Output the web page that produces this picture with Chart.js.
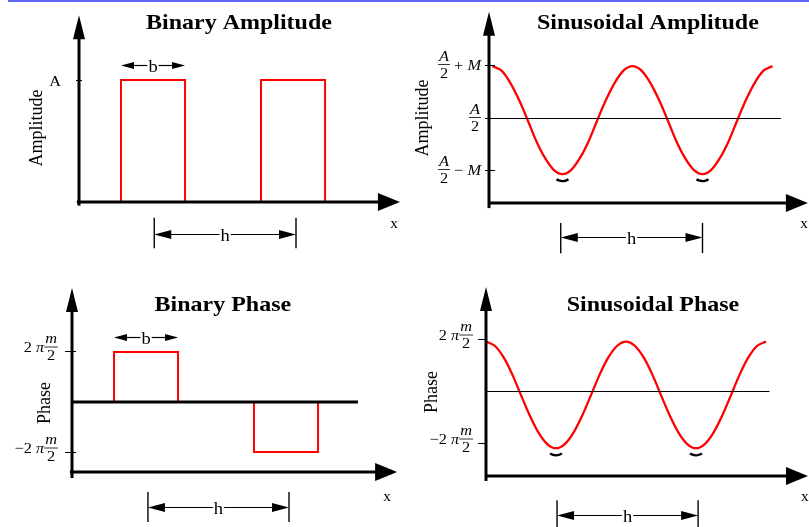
<!DOCTYPE html>
<html>
<head>
<meta charset="utf-8">
<script src="https://cdn.jsdelivr.net/npm/chart.js@4.4.0/dist/chart.umd.min.js"></script>
<style>
  html, body { margin: 0; padding: 0; background: #fff; }
  #wrap { position: relative; width: 809px; height: 527px; overflow: hidden; }
  #wrap canvas { position: absolute; }
  #topline { position: absolute; left: 8px; top: 0; width: 801px; height: 2px; background: #6464f4; }
</style>
</head>
<body>
<div id="wrap">
  <div id="topline"></div>
  <canvas id="binAmp" width="404" height="260" style="left:0;top:0"></canvas>
  <canvas id="sinAmp" width="405" height="260" style="left:404px;top:0"></canvas>
  <canvas id="binPhase" width="404" height="267" style="left:0;top:260px"></canvas>
  <canvas id="sinPhase" width="405" height="267" style="left:404px;top:260px"></canvas>
</div>
<script>
// ---- data (x in the same units for every panel, one period h = 4) ----
const pulseStarts = [1.2, 5.2];
const pulseEnds = [3.03, 7.03];
const binAmpLevels = [1, 1];
const binPhaseLevels = [1, -1];

// red curve of the sinusoidal amplitude panel, read every 1/16 period
const sinAmpX = [0.1, 0.35, 0.6, 0.85, 1.1, 1.35, 1.6, 1.85, 2.1, 2.35, 2.6, 2.85, 3.1, 3.35, 3.6, 3.85,
  4.1, 4.35, 4.6, 4.85, 5.1, 5.35, 5.6, 5.85, 6.1, 6.35, 6.6, 6.85, 7.1, 7.35, 7.6, 7.85, 8.1];
const sinAmpY = [1.61, 1.56, 1.42, 1.22, 0.98, 0.73, 0.53, 0.39, 0.34, 0.39, 0.53, 0.73, 0.98, 1.22, 1.42, 1.56,
  1.61, 1.56, 1.42, 1.22, 0.98, 0.73, 0.53, 0.39, 0.34, 0.39, 0.53, 0.73, 0.98, 1.22, 1.42, 1.56, 1.61];
const sinAmpMinX = [2.1, 6.1];

// red curve of the sinusoidal phase panel
const sinPhaseX = [0, 0.25, 0.5, 0.75, 1, 1.25, 1.5, 1.75, 2, 2.25, 2.5, 2.75, 3, 3.25, 3.5, 3.75,
  4, 4.25, 4.5, 4.75, 5, 5.25, 5.5, 5.75, 6, 6.25, 6.5, 6.75, 7, 7.25, 7.5, 7.75, 8];
const sinPhaseY = [0.95, 0.87, 0.65, 0.32, -0.08, -0.47, -0.8, -1.02, -1.1, -1.02, -0.8, -0.47, -0.08, 0.32, 0.65, 0.87,
  0.95, 0.87, 0.65, 0.32, -0.08, -0.47, -0.8, -1.02, -1.1, -1.02, -0.8, -0.47, -0.08, 0.32, 0.65, 0.87, 0.95];
const sinPhaseMinX = [2, 6];

const binAmpTicks = [1];
const binAmpTickLabels = [[{ s: 'A' }]];
const sinAmpTicks = [1.62, 1.0, 0.38];
const sinAmpTickLabels = [
  [{ num: 'A', den: '2' }, { s: ' + ' }, { s: 'M', it: true }],
  [{ num: 'A', den: '2' }],
  [{ num: 'A', den: '2' }, { s: ' \u2212 ' }, { s: 'M', it: true }]
];
const phaseTicks = [1, -1];
const phaseTickLabels = [
  [{ s: '2 ' }, { s: '\u03c0', it: true }, { num: 'm', den: '2' }],
  [{ s: '\u22122 ' }, { s: '\u03c0', it: true }, { num: 'm', den: '2' }]
];

// ---- drawing helpers ----
const SERIF = '"Liberation Serif", "Times New Roman", serif';
const SX = 1.09;
const TS = 15;
const fnt = (size, it, bold) => (it ? 'italic ' : '') + (bold ? 'bold ' : '') + size + 'px ' + SERIF;
const crisp = v => Math.round(v - 0.5) + 0.5;

function text(ctx, s, x, y, font, align, base, rot) {
  ctx.save();
  ctx.font = font;
  ctx.textAlign = align || 'center';
  ctx.textBaseline = base || 'alphabetic';
  ctx.translate(x, y);
  ctx.scale(SX, 1);
  if (rot) ctx.rotate(rot);
  ctx.fillText(s, 0, 0);
  ctx.restore();
}

function line(ctx, x1, y1, x2, y2) {
  ctx.beginPath();
  ctx.moveTo(x1, y1);
  ctx.lineTo(x2, y2);
  ctx.stroke();
}

function head(ctx, tx, ty, dx, dy, len, base) {
  const bx = tx - dx * len, by = ty - dy * len;
  ctx.beginPath();
  ctx.moveTo(tx, ty);
  ctx.lineTo(bx - dy * base / 2, by + dx * base / 2);
  ctx.lineTo(bx + dy * base / 2, by - dx * base / 2);
  ctx.closePath();
  ctx.fill();
}

function tokWidth(ctx, t) {
  if (t.num) {
    ctx.font = fnt(TS, true);
    const wn = ctx.measureText(t.num).width;
    ctx.font = fnt(TS, false);
    const wd = ctx.measureText(t.den).width;
    return Math.max(wn, wd) * SX + 2;
  }
  ctx.font = fnt(TS, t.it);
  return ctx.measureText(t.s).width * SX;
}

function drawTokens(ctx, toks, xr, cy) {
  const ws = toks.map(t => tokWidth(ctx, t));
  let x = xr - ws.reduce((a, b) => a + b, 0);
  toks.forEach((t, i) => {
    const w = ws[i];
    if (t.num) {
      text(ctx, t.num, x + w / 2, cy - 4, fnt(TS, true), 'center');
      text(ctx, t.den, x + w / 2, cy + 13, fnt(TS, false), 'center');
      ctx.lineWidth = 0.8;
      line(ctx, x, cy, x + w, cy);
    } else {
      text(ctx, t.s, x, cy + 5, fnt(TS, t.it), 'left');
    }
    x += w;
  });
}

function dimension(ctx, x1, x2, y, label, size, len, base) {
  ctx.lineWidth = 1.2;
  y = crisp(y);
  head(ctx, x1, y, -1, 0, len, base);
  head(ctx, x2, y, 1, 0, len, base);
  ctx.font = fnt(size);
  const half = ctx.measureText(label).width * SX / 2 + 1;
  const cx = (x1 + x2) / 2;
  line(ctx, x1 + len - 1, y, cx - half, y);
  line(ctx, cx + half, y, x2 - len + 1, y);
  text(ctx, label, cx, y + size * 0.36, fnt(size), 'center');
}

const diagram = {
  id: 'diagram',
  afterDatasetsDraw(chart, args, o) {
    const ctx = chart.ctx;
    const X = v => chart.scales.x.getPixelForValue(v);
    const Y = v => chart.scales.y.getPixelForValue(v);
    ctx.save();
    ctx.fillStyle = '#000';
    ctx.strokeStyle = '#000';
    ctx.lineCap = 'butt';

    if (o.mid) {
      ctx.lineWidth = o.mid.w;
      const my = o.mid.w === 1 ? crisp(Y(o.mid.y)) : Y(o.mid.y);
      line(ctx, X(0), my, X(o.mid.x1), my);
    }

    // axes with arrowheads
    ctx.lineWidth = 3;
    const ax = X(0), by = Y(o.base);
    line(ctx, ax, Y(o.yAxis[0]), ax, Y(o.yAxis[1]) + 20);
    head(ctx, ax, Y(o.yAxis[1]), 0, -1, 24, 12);
    line(ctx, X(o.xAxis[0]), by, X(o.xAxis[1]) - 18, by);
    head(ctx, X(o.xAxis[1]), by, 1, 0, 22, 18);

    // ticks and their labels
    o.ticks.forEach((v, i) => {
      const ty = crisp(Y(v));
      ctx.lineWidth = 1;
      line(ctx, ax - o.tickL, ty, ax + o.tickR, ty);
      drawTokens(ctx, o.tickLabels[i], ax - o.tickL - o.gap, ty + o.labelDy);
    });

    // minima marks
    (o.minX || []).forEach(mx => {
      ctx.lineWidth = 2.4;
      ctx.beginPath();
      ctx.ellipse(X(mx), Y(o.minY) + 3, 7, 4, 0, 0.18 * Math.PI, 0.82 * Math.PI);
      ctx.stroke();
    });

    // b and h dimensions
    if (o.b) dimension(ctx, X(o.b.x1), X(o.b.x2), Y(o.b.y), 'b', 17, 13, 7);
    const h = o.h;
    ctx.lineWidth = 1.4;
    line(ctx, X(h.x1), Y(h.top), X(h.x1), Y(h.bot));
    line(ctx, X(h.x2), Y(h.top), X(h.x2), Y(h.bot));
    dimension(ctx, X(h.x1), X(h.x2), Y(h.y), 'h', 17, 17, 9);

    // texts
    text(ctx, 'x', X(o.xLabel[0]), Y(o.xLabel[1]), fnt(14), 'center', 'middle');
    text(ctx, o.title, X(o.titleAt[0]), Y(o.titleAt[1]), fnt(22, false, true), 'center');
    text(ctx, o.yTitle, X(o.yTitleAt[0]), Y(o.yTitleAt[1]), fnt(18), 'center', 'middle', -Math.PI / 2);
    ctx.restore();
  }
};

function redLine(pts, smooth) {
  return {
    data: pts,
    showLine: true,
    borderColor: '#ff0000',
    borderWidth: smooth ? 2.3 : 2,
    pointRadius: 0,
    clip: false,
    tension: smooth ? 0.3 : 0,
    borderJoinStyle: smooth ? 'round' : 'miter'
  };
}

function pulses(levels) {
  return levels.map((l, i) => redLine([
    { x: pulseStarts[i], y: 0 }, { x: pulseStarts[i], y: l },
    { x: pulseEnds[i], y: l }, { x: pulseEnds[i], y: 0 }
  ], false));
}

function panel(id, lay, datasets, deco) {
  const c = document.getElementById(id);
  const W = c.width, H = c.height;
  new Chart(c, {
    type: 'scatter',
    data: { datasets },
    options: {
      responsive: false,
      animation: false,
      events: [],
      layout: { padding: 0 },
      scales: {
        x: { type: 'linear', display: false, min: -lay.ox / lay.ux, max: (W - lay.ox) / lay.ux },
        y: { type: 'linear', display: false, min: -(H - lay.oy) / lay.uy, max: lay.oy / lay.uy }
      },
      plugins: { legend: { display: false }, tooltip: { enabled: false }, diagram: deco }
    },
    plugins: [diagram]
  });
}

panel('binAmp', { ox: 79, oy: 202, ux: 35, uy: 122 }, pulses(binAmpLevels), {
  base: 0, yAxis: [-0.03, 1.53], xAxis: [-0.06, 9.17],
  ticks: binAmpTicks, tickLabels: binAmpTickLabels, tickL: 3, tickR: 3, gap: 15, labelDy: 0,
  b: { x1: pulseStarts[0], x2: pulseEnds[0], y: 1.12 },
  h: { x1: 2.15, x2: 6.2, y: -0.27, top: -0.13, bot: -0.38 },
  xLabel: [9.0, -0.18], title: 'Binary Amplitude', titleAt: [4.57, 1.418],
  yTitle: 'Amplitude', yTitleAt: [-1.2, 0.607]
});

panel('sinAmp', { ox: 85, oy: 203, ux: 35, uy: 85 },
  [redLine(sinAmpX.map((x, i) => ({ x, y: sinAmpY[i] })), true)], {
  base: 0, yAxis: [-0.06, 2.25], xAxis: [-0.03, 9.11],
  mid: { y: 1.0, x1: 8.34, w: 1 },
  ticks: sinAmpTicks, tickLabels: sinAmpTickLabels, tickL: 4, tickR: 6, gap: 4, labelDy: -1,
  minX: sinAmpMinX, minY: 0.34,
  h: { x1: 2.05, x2: 6.1, y: -0.4, top: -0.235, bot: -0.59 },
  xLabel: [9.0, -0.25], title: 'Sinusoidal Amplitude', titleAt: [4.54, 2.047],
  yTitle: 'Amplitude', yTitleAt: [-1.886, 1.0]
});

panel('binPhase', { ox: 72, oy: 142, ux: 35, uy: 50 }, pulses(binPhaseLevels), {
  base: -1.4, yAxis: [-1.52, 2.28], xAxis: [-0.06, 9.29],
  mid: { y: 0, x1: 8.17, w: 3 },
  ticks: phaseTicks, tickLabels: phaseTickLabels, tickL: 7, tickR: 4, gap: 7, labelDy: -4.5,
  b: { x1: pulseStarts[0], x2: pulseEnds[0], y: 1.3 },
  h: { x1: 2.17, x2: 6.2, y: -2.1, top: -1.8, bot: -2.4 },
  xLabel: [9.0, -1.9], title: 'Binary Phase', titleAt: [4.31, 1.82],
  yTitle: 'Phase', yTitleAt: [-0.77, -0.02]
});

panel('sinPhase', { ox: 82, oy: 131, ux: 35, uy: 52 },
  [redLine(sinPhaseX.map((x, i) => ({ x, y: sinPhaseY[i] })), true)], {
  base: -1.635, yAxis: [-1.73, 2.0], xAxis: [-0.03, 9.2],
  mid: { y: 0, x1: 8.1, w: 1 },
  ticks: phaseTicks, tickLabels: phaseTickLabels, tickL: 8, tickR: 1, gap: 5, labelDy: -4.5,
  minX: sinPhaseMinX, minY: -1.1,
  h: { x1: 2.03, x2: 6.06, y: -2.4, top: -2.1, bot: -2.62 },
  xLabel: [9.11, -2.04], title: 'Sinusoidal Phase', titleAt: [4.77, 1.53],
  yTitle: 'Phase', yTitleAt: [-1.54, -0.02]
});
</script>
</body>
</html>
